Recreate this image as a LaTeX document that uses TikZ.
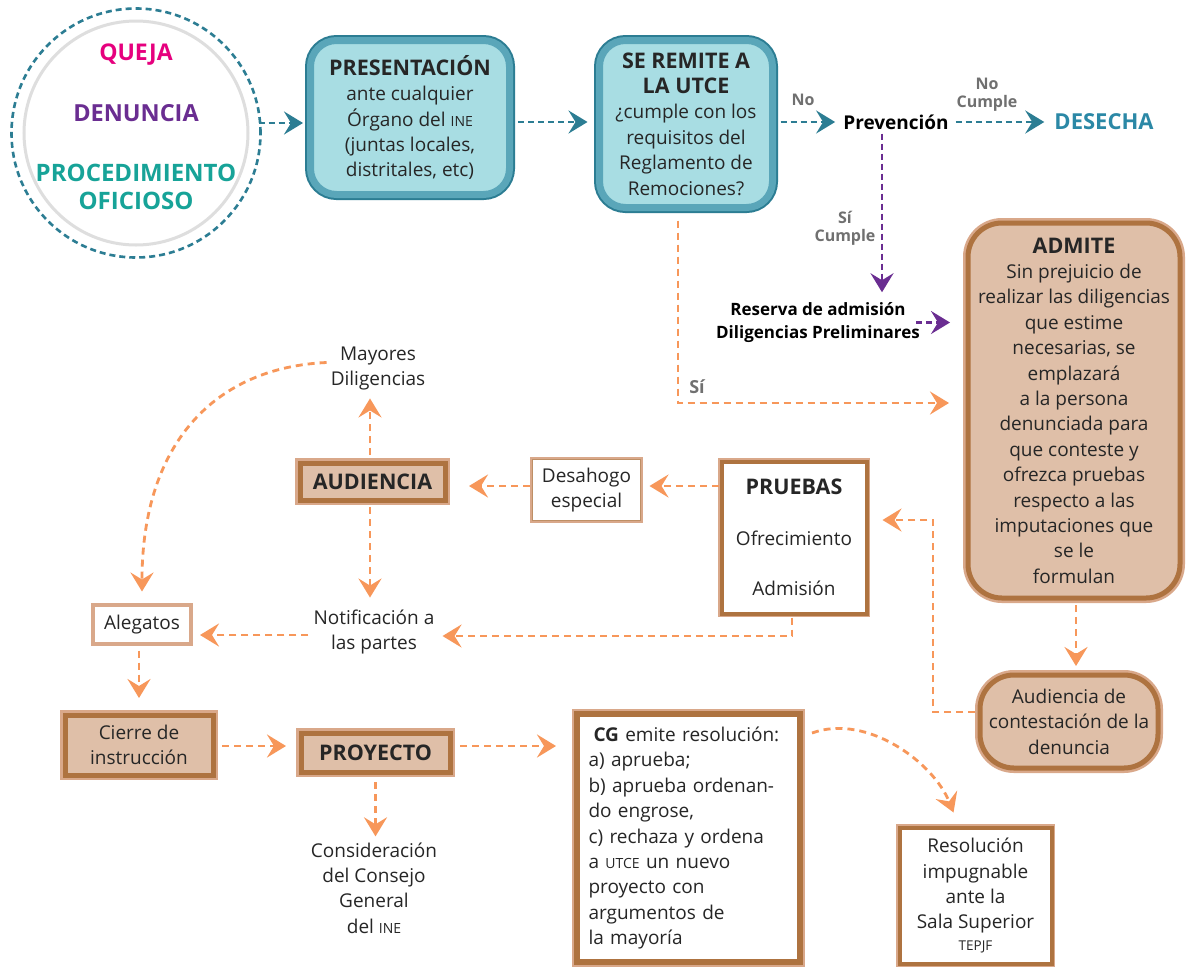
\documentclass[tikz,border=0pt]{standalone}
\usepackage{fontspec}
\setmainfont{Open Sans}
\usetikzlibrary{arrows.meta,calc}
\definecolor{tealdark}{HTML}{2C7D93}
\definecolor{tealmid}{HTML}{5AA6B9}
\definecolor{cyanfill}{HTML}{A8DDE3}
\definecolor{tanfill}{HTML}{DFBFA8}
\definecolor{brownc}{HTML}{AE7340}
\definecolor{lightbrown}{HTML}{D9A88A}
\definecolor{orng}{HTML}{F7975A}
\definecolor{purp}{HTML}{6A2D91}
\definecolor{pinkc}{HTML}{E6007E}
\definecolor{greenteal}{HTML}{17A398}
\definecolor{desechac}{HTML}{2B88A6}
\definecolor{graylbl}{HTML}{707070}
\definecolor{txt}{HTML}{262626}
\newcommand{\smc}[1]{{\fontsize{14}{14}\selectfont #1}}
\newcommand{\hd}[1]{{\bfseries\fontsize{21.5}{25.4}\selectfont #1}}
\tikzset{
  bodytext/.style={font=\fontsize{19}{25.4}\selectfont, text=txt, align=center, inner sep=2pt},
  arrowtip/.style={-{Stealth[length=19pt,width=23pt,inset=7pt]}},
  tconn/.style={draw=tealdark, line width=2.6pt, dash pattern=on 6pt off 4pt, arrowtip},
  oconn/.style={draw=orng, line width=2.8pt, dash pattern=on 7pt off 5pt, arrowtip},
  pconn/.style={draw=purp, line width=2.6pt, dash pattern=on 6pt off 4pt, arrowtip},
  cyanbox/.style={bodytext, rectangle, outer sep=0pt, rounded corners=26pt, fill=cyanfill, draw=tealmid, line width=7pt, preaction={draw=tealdark, line width=11pt}},
  tanround/.style={bodytext, rectangle, outer sep=0pt, rounded corners=30pt, fill=tanfill, draw=brownc, line width=5pt, preaction={draw=lightbrown, line width=10pt}},
  tanrect/.style={bodytext, rectangle, outer sep=0pt, fill=tanfill, draw=brownc, line width=5pt, preaction={draw=lightbrown, line width=10pt}},
  whiterect/.style={bodytext, rectangle, outer sep=0pt, fill=white, draw=brownc, line width=4pt, preaction={draw=lightbrown, line width=7pt}},
  smallbox/.style={bodytext, rectangle, outer sep=0pt, fill=white, draw=brownc!80, line width=1.2pt, preaction={draw=lightbrown, line width=5pt}},
  lbl/.style={font=\bfseries\fontsize{16}{18}\selectfont, text=graylbl, align=center, inner sep=1pt},
}
\begin{document}
\begin{tikzpicture}[x=1pt,y=-1pt]
\useasboundingbox (0,0) rectangle (1186,967);
\fill[white] (0,0) rectangle (1186,967);

% circle
\node[circle, minimum size=249pt, draw=tealdark, line width=2.6pt, dash pattern=on 6pt off 4pt, outer sep=0pt] (circ) at (136,133) {};
\node[circle, minimum size=224pt, fill=white, draw=black!13, line width=3pt] (circin) at (136,133) {};
\node[font=\bfseries\fontsize{23}{26}\selectfont, text=pinkc] (queja) at (136,55) {QUEJA};
\node[font=\bfseries\fontsize{23.5}{26}\selectfont, text=purp] (denuncia) at (136,113) {DENUNCIA};
\node[font=\bfseries\fontsize{24}{28}\selectfont, text=greenteal, align=center] (proc) at (136,187) {PROCEDIMIENTO\\OFICIOSO};

% top boxes
\node[cyanbox, minimum width=199pt, minimum height=154pt] (pres) at (410,117.5)
  {\hd{PRESENTACIÓN}\\ante cualquier\\Órgano del \smc{INE}\\(juntas locales,\\distritales, etc)};
\node[cyanbox, minimum width=173pt, minimum height=167pt] (utce) at (686,124)
  {\hd{SE REMITE A}\\\hd{LA UTCE}\\¿cumple con los\\requisitos del\\Reglamento de\\Remociones?};

\node[font=\bfseries\fontsize{19}{22}\selectfont, text=black, inner sep=2pt] (prev) at (896,122) {Prevención};
\node[font=\bfseries\fontsize{22}{24}\selectfont, text=desechac, inner sep=2pt] (desecha) at (1104,122) {DESECHA};
\node[lbl] (lno) at (803,100) {No};
\node[lbl] (lnocumple) at (987,95) {No\\Cumple};
\node[lbl] (lsicumple) at (845,228) {Sí\\Cumple};
\node[font=\bfseries\fontsize{17}{23}\selectfont, text=black, align=center, inner sep=2pt] (reserva) at (818,322.5)
  {Reserva de admisión\\Diligencias Preliminares};
\node[lbl, font=\bfseries\fontsize{18}{20}\selectfont] (lsi) at (697,387) {Sí};

% right column
\node[tanround, rounded corners=34pt, minimum width=212pt, minimum height=375pt] (admite) at (1074,410.5)
  {\hd{ADMITE}\\Sin prejuicio de\\realizar las diligencias\\que estime\\necesarias, se\\emplazará\\a la persona\\denunciada para\\que conteste y\\ofrezca pruebas\\respecto a las\\imputaciones que\\se le\\formulan};
\node[tanround, rounded corners=34pt, minimum width=178pt, minimum height=93pt] (audc) at (1069,721.5)
  {Audiencia de\\contestación de la\\denuncia};

% middle row
\node[whiterect, minimum width=145pt, minimum height=152pt] (pruebas) at (794,537.5)
  {\hd{PRUEBAS}\\[25pt]Ofrecimiento\\[25pt]Admisión};
\node[smallbox, minimum width=108pt, minimum height=61pt] (desa) at (586.5,490) {Desahogo\\especial};
\node[tanrect, minimum width=145pt, minimum height=37pt] (aud) at (372.5,481.5) {\hd{AUDIENCIA}};
\node[bodytext] (mayores) at (378,368.5) {Mayores\\Diligencias};
\node[bodytext] (notif) at (374,632) {Notificación a\\las partes};
\node[smallbox, draw=lightbrown, line width=3pt, preaction={draw=none}, minimum width=97pt, minimum height=38pt] (alegatos) at (142,624.5) {Alegatos};

% bottom row
\node[tanrect, minimum width=148pt, minimum height=60pt] (cierre) at (139,745) {Cierre de\\instrucción};
\node[tanrect, minimum width=149pt, minimum height=39pt] (proy) at (375.5,752.5) {\hd{PROYECTO}};
\node[bodytext] (consid) at (374,888) {Consideración\\del Consejo\\General\\del \smc{INE}};
\node[whiterect, draw=brownc, line width=6pt, preaction={draw=lightbrown, line width=10pt}, minimum width=223pt, minimum height=248pt, text width=200pt, align=left] (cg) at (688.5,838)
  {\hspace*{5pt}{\bfseries CG} emite resolución:\\a) aprueba;\\b) aprueba ordenan-\\do engrose,\\c) rechaza y ordena\\a \smc{UTCE} un nuevo\\proyecto con\\argumentos de\\la mayoría};
\node[whiterect, minimum width=152pt, minimum height=136pt] (resol) at (975.5,895.5)
  {Resolución\\impugnable\\ante la\\Sala Superior\\[-4pt]{\fontsize{13.5}{14}\selectfont TEPJF}};

% connectors
\draw[tconn] ($(circ.east)+(-2,-10)$) -- ($(pres.west)+(-7.5,5.5)$);
\draw[tconn] ($(pres.east)+(8.5,4.5)$) -- ($(utce.west)+(-12,-2)$);
\draw[tconn] ($(utce.east)+(8,-2)$) -- ($(prev.west)+(-6,0)$);
\draw[tconn] ($(prev.east)+(5,0)$) -- ($(desecha.west)+(-8,0)$);
\draw[pconn] ($(prev.south)+(-14,2)$) -- ($(prev.south |- reserva.north)+(-14,-8)$);
\draw[pconn] ($(reserva.east)+(-6,0)$) -- ($(admite.west |- reserva.east)+(-18,0)$);
\draw[oconn] ($(utce.south)+(-8,13)$) |- ($(admite.west)+(-19,-7.5)$);
\draw[oconn] ($(admite.south)+(2,7)$) -- ($(audc.north)+(7,-9)$);
\draw[oconn] ($(audc.west)+(-5,-9.5)$) -- ++(-42,0) |- ($(pruebas.east)+(16,-17.5)$);
\draw[oconn] ($(pruebas.west)+(-3,-51.5)$) -- ($(desa.east)+(9,-4)$);
\draw[oconn] ($(desa.west)+(-3,-4)$) -- ($(aud.east)+(24,4.5)$);
\draw[oconn] ($(aud.north)+(-2.5,-8)$) -- ($(aud.north |- mayores.south)+(-2.5,6)$);
\draw[oconn] ($(mayores.west)+(-2,-6)$) .. controls +(-110,5) and +(0,-150) .. ($(alegatos.north)+(0,-14)$);
\draw[oconn] ($(aud.south)+(-2.5,7)$) -- ($(aud.south |- notif.north)+(-2.5,-10)$);
\draw[oconn] ($(pruebas.south)+(-2,4)$) |- ($(notif.east)+(6,4)$);
\draw[oconn] ($(notif.west)+(-3,3)$) -- ($(alegatos.east)+(9.5,10.5)$);
\draw[oconn] ($(alegatos.south)+(-3,7)$) -- ($(cierre.north)+(0,-17)$);
\draw[oconn] ($(cierre.east)+(9,1)$) -- ($(proy.west)+(-15,-6.5)$);
\draw[oconn] ($(proy.east)+(10,-6.5)$) -- ($(cg.west)+(-21,-92)$);
\draw[oconn] ($(proy.south)+(0,10)$) -- ($(proy.south |- consid.north)+(0,-4)$);
\draw[oconn] ($(cg.north east)+(12,19)$) .. controls +(55,-20) and +(-20,-50) .. ($(resol.north)+(-22,-15)$);
\end{tikzpicture}
\end{document}
